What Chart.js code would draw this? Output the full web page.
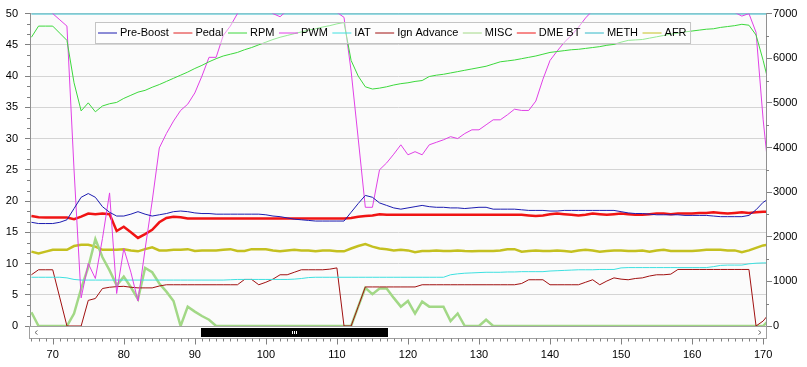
<!DOCTYPE html>
<html>
<head>
<meta charset="utf-8">
<script src="https://cdn.jsdelivr.net/npm/chart.js@4"></script>
<style>
  html, body { margin: 0; padding: 0; background: #fff; }
  #wrap { width: 807px; height: 367px; }
</style>
</head>
<body>
<div id="wrap"><canvas id="myChart" width="807" height="367"></canvas></div>
<script>
// sample index along the log (67 .. 171)
const samples = Array.from({ length: 105 }, (_, i) => 67 + i);

const preBoost = [
  16.6, 16.4, 16.4, 16.4, 16.6, 17.0, 18.8, 20.6, 21.2, 20.6,
  19.1, 18.2, 17.6, 17.6, 17.9, 18.3, 17.9, 17.6, 17.8, 18.0,
  18.3, 18.4, 18.3, 18.1, 18.0, 18.0, 17.9, 17.9, 17.9, 17.9,
  17.9, 17.9, 17.9, 17.8, 17.6, 17.5, 17.3, 17.1, 17.0, 16.9,
  16.8, 16.8, 16.8, 16.8, 16.8, 18.2, 19.6, 20.9, 20.6, 19.7,
  19.3, 18.9, 18.7, 18.9, 19.1, 19.3, 19.1, 19.0, 19.0, 18.9,
  18.9, 18.8, 18.9, 19.0, 19.0, 18.7, 18.7, 18.7, 18.7, 18.6,
  18.5, 18.5, 18.5, 18.4, 18.4, 18.5, 18.5, 18.5, 18.5, 18.5,
  18.5, 18.5, 18.5, 18.3, 18.1, 18.0, 18.0, 17.9, 17.8, 17.8,
  17.8, 17.8, 17.7, 17.7, 17.7, 17.7, 17.6, 17.5, 17.5, 17.5,
  17.5, 17.7, 18.6, 19.8, 20.5
];

// pedal sits above the visible range of the left axis
const pedal = samples.map(() => 100);

const rpm = [
  6470, 6720, 6720, 6720, 6560, 6400, 5450, 4820, 5000, 4800,
  4930, 4980, 5010, 5100, 5170, 5240, 5280, 5350, 5410, 5480,
  5550, 5620, 5690, 5770, 5840, 5920, 5990, 6050, 6090, 6130,
  6190, 6240, 6300, 6360, 6420, 6470, 6510, 6550, 6590, 6630,
  6660, 6700, 6730, 6770, 6800, 5950, 5600, 5360, 5310, 5330,
  5360, 5400, 5430, 5450, 5480, 5500, 5590, 5620, 5640, 5670,
  5700, 5730, 5760, 5790, 5820, 5870, 5920, 5940, 5960, 5990,
  6020, 6050, 6090, 6130, 6150, 6170, 6190, 6200, 6220, 6240,
  6260, 6290, 6310, 6360, 6400, 6410, 6420, 6450, 6480, 6510,
  6540, 6560, 6590, 6610, 6630, 6650, 6660, 6690, 6710, 6730,
  6760, 6740, 6520, 5950, 5300
];

const pwm = [
  60, 58, 54, 50, 49, 48, 25, 4.5, 10, 7.6,
  14, 21.3, 5.2, 12.4, 8.6, 4.0, 12.3, 20, 28.5, 30.8,
  32.8, 34.5, 35.5, 37.3, 40, 43, 43, 46.5, 48, 50,
  52, 54, 53, 51, 50, 49.5, 50.5, 51, 51, 51,
  50.8, 50.5, 50.3, 50.2, 49.4, 40.8, 30, 19, 19, 25,
  26.1, 27.5, 29, 27.4, 27.9, 27.4, 29, 29.4, 29.8, 30.3,
  30, 30.8, 31.4, 31.4, 32.2, 33, 33, 33.8, 34.7, 34.5,
  34.5, 36, 39.5, 42.5, 44, 45.4, 46.5, 47.8, 49.3, 50.5,
  52, 54, 56, 58, 60, 60, 60, 60, 60, 60,
  60, 60, 60, 58, 56, 54, 52, 51, 50.5, 50.2,
  49.6, 50, 47, 33, 22
];

const iat = [
  7.8, 7.8, 7.8, 7.8, 7.8, 7.7, 7.45, 7.35, 7.35, 7.35,
  7.35, 7.35, 7.35, 7.35, 7.35, 7.35, 7.35, 7.35, 7.35, 7.35,
  7.35, 7.35, 7.35, 7.35, 7.35, 7.35, 7.35, 7.35, 7.4, 7.45,
  7.45, 7.45, 7.45, 7.45, 7.45, 7.45, 7.45, 7.5, 7.6, 7.75,
  7.8, 7.8, 7.8, 7.8, 7.8, 7.8, 7.8, 7.8, 7.8, 7.8,
  7.8, 7.8, 7.8, 7.8, 7.8, 7.8, 7.8, 7.8, 7.8, 8.2,
  8.35, 8.45, 8.5, 8.55, 8.6, 8.6, 8.6, 8.65, 8.65, 8.7,
  8.7, 8.7, 8.7, 8.8, 8.85, 8.9, 8.95, 9.0, 9.0, 9.0,
  9.05, 9.05, 9.05, 9.3, 9.35, 9.35, 9.35, 9.35, 9.35, 9.35,
  9.35, 9.35, 9.35, 9.35, 9.35, 9.35, 9.5, 9.7, 9.75, 9.75,
  9.75, 9.95, 10.05, 10.1, 10.1
];

const ignAdvance = [
  8.2, 9.0, 9.0, 9.0, 4.5, 0, 0, 0, 4.1, 4.4,
  6.0, 6.2, 6.3, 6.35, 6.2, 6.1, 6.1, 6.1, 6.4, 6.6,
  6.6, 6.6, 6.6, 6.6, 6.6, 6.6, 6.6, 6.6, 6.6, 6.6,
  7.45, 7.45, 6.6, 7.0, 7.5, 8.2, 8.2, 8.6, 9.0, 9.0,
  9.0, 9.0, 9.1, 9.3, 0, 0, 3.1, 6.25, 6.25, 6.25,
  6.25, 6.25, 6.25, 6.25, 6.25, 6.6, 6.6, 6.6, 6.6, 6.6,
  6.6, 6.6, 6.6, 6.6, 6.6, 6.6, 6.6, 6.6, 6.6, 6.8,
  7.4, 7.4, 7.4, 6.6, 6.6, 6.6, 6.6, 6.6, 7.0, 7.4,
  6.6, 7.2, 7.7, 7.5, 7.4, 7.6, 7.7, 8.0, 8.2, 8.2,
  8.3, 9.05, 9.05, 9.05, 9.05, 9.05, 9.05, 9.05, 9.05, 9.05,
  9.05, 9.05, 0, 0.8, 2.2
];

const misc = [
  2.2, 0, 0, 0, 0, 0, 2.0, 6.0, 9.4, 13.9,
  11, 8.9, 6.5, 7.9, 6.2, 4.3, 9.3, 8.6, 6.8, 5.5,
  4.0, 0, 3.1, 2.3, 1.6, 1.0, 0, 0, 0, 0,
  0, 0, 0, 0, 0, 0, 0, 0, 0, 0,
  0, 0, 0, 0, 0, 0, 3.1, 6.1, 5.1, 6.0,
  6.0, 4.5, 3.1, 4.0, 2.0, 3.9, 3.1, 3.1, 3.1, 0.8,
  2.0, 0, 0, 0, 1.0, 0, 0, 0, 0, 0,
  0, 0, 0, 0, 0, 0, 0, 0, 0, 0,
  0, 0, 0, 0, 0, 0, 0, 0, 0, 0,
  0, 0, 0, 0, 0, 0, 0, 0, 0, 0,
  0, 0, 0, 0, 1.2
];

const dmeBt = [
  17.6, 17.4, 17.35, 17.35, 17.35, 17.35, 17.1, 17.5, 18.0, 17.9,
  18.0, 17.9, 15.2, 15.9, 15.0, 14.1, 14.7, 15.4, 16.6, 17.3,
  17.5, 17.4, 17.2, 17.2, 17.2, 17.2, 17.2, 17.2, 17.2, 17.2,
  17.2, 17.2, 17.2, 17.2, 17.2, 17.2, 17.2, 17.2, 17.2, 17.2,
  17.2, 17.2, 17.2, 17.2, 17.2, 17.3, 17.5, 17.6, 17.7, 17.9,
  17.8, 17.8, 17.8, 17.8, 17.8, 17.8, 17.8, 17.8, 17.8, 17.8,
  17.8, 17.8, 17.8, 17.8, 17.8, 17.8, 17.8, 17.8, 17.8, 17.8,
  17.7, 17.6, 17.7, 17.9, 18.0, 17.9, 17.8, 17.7, 17.8, 18.0,
  17.9, 17.8, 17.9, 18.0, 17.9, 17.8, 17.8, 17.9, 18.0, 18.0,
  17.9, 18.0, 18.0, 18.0, 18.1, 18.1, 18.2, 18.1, 18.0, 18.1,
  18.2, 18.1, 18.2, 18.3, 18.3
];

// meth pinned at the top of the left axis
const meth = samples.map(() => 50);

const afr = [
  11.9, 11.6, 11.9, 12.2, 12.2, 12.2, 12.8, 13.0, 13.0, 12.7,
  12.2, 12.2, 12.2, 12.3, 12.1, 11.95, 12.3, 12.6, 12.1, 12.1,
  12.2, 12.2, 12.3, 12.0, 12.1, 12.1, 12.1, 12.2, 12.3, 12.0,
  12.0, 12.3, 12.3, 12.3, 12.1, 11.95, 12.1, 12.2, 12.1, 12.1,
  11.95, 12.1, 12.1, 11.95, 11.95, 12.4, 12.8, 13.1, 12.7, 12.4,
  12.3, 12.1, 12.2, 12.1, 11.8, 12.0, 12.0, 12.1, 12.0, 12.0,
  12.1, 12.0, 11.95, 12.0, 12.0, 12.0, 12.1, 12.3, 12.3, 11.9,
  12.0, 12.1, 12.0, 12.0, 12.1, 12.0, 11.9, 12.1, 12.2, 12.1,
  11.9, 12.0, 12.1, 12.1, 12.0, 12.0, 12.1, 11.9, 12.1, 12.2,
  12.0, 12.0, 12.0, 12.0, 12.1, 12.2, 12.2, 12.2, 12.1, 12.1,
  11.8, 12.1, 12.5, 12.9, 13.1
];

const leftTicks = [0, 5, 10, 15, 20, 25, 30, 35, 40, 45, 50];
const rightTicks = [0, 1000, 2000, 3000, 4000, 5000, 6000, 7000];
const xTicks = [70, 80, 90, 100, 110, 120, 130, 140, 150, 160, 170];

const FONT = '"Liberation Sans", Arial, sans-serif';

function series(label, data, color, width, axis) {
  return {
    label: label,
    data: data,
    borderColor: color,
    backgroundColor: color,
    borderWidth: width,
    pointRadius: 0,
    tension: 0,
    fill: false,
    yAxisID: axis || 'y'
  };
}

// background, minor ticks, scroll bar and the in-plot legend
const chartDecor = {
  id: 'chartDecor',
  beforeDraw(chart) {
    const { ctx, chartArea: a } = chart;
    ctx.save();
    ctx.fillStyle = '#ffffff';
    ctx.fillRect(0, 0, chart.width, chart.height);
    ctx.fillStyle = '#fbfbfb';
    ctx.fillRect(a.left, a.top, a.right - a.left, a.bottom - a.top);
    ctx.restore();
  },
  afterDraw(chart) {
    const { ctx, chartArea: a, scales } = chart;
    const yL = scales.y, yR = scales.y1, x = scales.x;
    ctx.save();

    // scroll bar under the plot
    const sbTop = a.bottom + 0.5, sbBot = a.bottom + 12.5;
    ctx.fillStyle = '#ffffff';
    ctx.fillRect(a.left, a.bottom + 1, a.right - a.left, 12);
    ctx.strokeStyle = '#a0a0a0';
    ctx.lineWidth = 1;
    ctx.strokeRect(a.left - 0.5, sbTop, a.right - a.left + 1, sbBot - sbTop);
    ctx.fillStyle = '#000000';
    ctx.fillRect(201, a.bottom + 2, 187, 9);
    ctx.strokeStyle = '#ffffff';
    ctx.beginPath();
    [292.5, 294.5, 296.5].forEach(px => { ctx.moveTo(px, a.bottom + 5); ctx.lineTo(px, a.bottom + 8); });
    ctx.stroke();
    ctx.strokeStyle = '#707070';
    ctx.beginPath();
    ctx.moveTo(a.left + 7.5, a.bottom + 4.5); ctx.lineTo(a.left + 5, a.bottom + 6.5); ctx.lineTo(a.left + 7.5, a.bottom + 8.5);
    ctx.moveTo(a.right - 7.5, a.bottom + 4.5); ctx.lineTo(a.right - 5, a.bottom + 6.5); ctx.lineTo(a.right - 7.5, a.bottom + 8.5);
    ctx.stroke();

    // axis ticks
    ctx.strokeStyle = '#808080';
    ctx.beginPath();
    for (let v = 67; v <= 170; v++) {
      const px = Math.round(x.getPixelForValue(v)) + 0.5;
      const len = v % 10 === 0 ? 6 : 3;
      ctx.moveTo(px, sbBot); ctx.lineTo(px, sbBot + len);
    }
    for (let k = 0; k <= 30; k++) {
      if (k % 3 === 0) continue;
      const py = Math.round(yL.getPixelForValue(k * 5 / 3)) + 0.5;
      ctx.moveTo(a.left - 3, py); ctx.lineTo(a.left, py);
    }
    for (let k = 1; k < 14; k += 2) {
      const py = Math.round(yR.getPixelForValue(k * 500)) + 0.5;
      ctx.moveTo(a.right, py); ctx.lineTo(a.right + 3, py);
    }
    ctx.stroke();

    // legend box inside the plot
    ctx.font = '11px ' + FONT;
    ctx.textBaseline = 'middle';
    const items = chart.data.datasets;
    const lx = 95, ly = 22, lh = 21, lineLen = 19;
    let cx = lx + 3;
    const pos = items.map(ds => {
      const p = cx;
      cx += lineLen + 3 + ctx.measureText(ds.label).width + 4.5;
      return p;
    });
    const lw = cx - lx - 1;
    ctx.fillStyle = 'rgba(255,255,255,0.45)';
    ctx.fillRect(lx, ly, lw, lh);
    ctx.strokeStyle = '#c4c4c4';
    ctx.strokeRect(lx + 0.5, ly + 0.5, lw, lh);
    items.forEach((ds, i) => {
      const cy = ly + lh / 2 + 0.5;
      ctx.strokeStyle = ds.borderColor;
      ctx.lineWidth = 1;
      ctx.beginPath();
      ctx.moveTo(pos[i], cy); ctx.lineTo(pos[i] + lineLen, cy);
      ctx.stroke();
      ctx.fillStyle = '#000000';
      ctx.fillText(ds.label, pos[i] + lineLen + 3, cy);
    });
    ctx.restore();
  }
};

const ctx = document.getElementById('myChart').getContext('2d');
const myChart = new Chart(ctx, {
  type: 'line',
  data: {
    labels: samples,
    datasets: [
      series('Pre-Boost', preBoost, '#1c1cb0', 1),
      series('Pedal', pedal, '#e02020', 1),
      series('RPM', rpm, '#3cd83c', 1, 'y1'),
      series('PWM', pwm, '#e040e6', 1),
      series('IAT', iat, '#3ee0e0', 1),
      series('Ign Advance', ignAdvance, '#a01010', 1),
      series('MISC', misc, '#a2d886', 2.5),
      series('DME BT', dmeBt, '#f01414', 2.5),
      series('METH', meth, '#30b8c8', 2),
      series('AFR', afr, '#c4c020', 2.5)
    ]
  },
  options: {
    responsive: false,
    animation: false,
    devicePixelRatio: 1,
    layout: { padding: { top: 11, left: 0, right: 0, bottom: 0 } },
    plugins: {
      legend: { display: false },
      tooltip: { enabled: false }
    },
    scales: {
      x: {
        type: 'linear',
        min: 66.8,
        max: 170.4,
        afterBuildTicks: s => { s.ticks = xTicks.map(v => ({ value: v })); },
        afterFit: s => { s.height = 41; },
        grid: { display: false, drawTicks: false },
        border: { display: false },
        ticks: { autoSkip: false, maxRotation: 0, padding: 22, color: '#000', font: { family: FONT, size: 11 } }
      },
      y: {
        position: 'left',
        min: 0,
        max: 50,
        afterBuildTicks: s => { s.ticks = leftTicks.map(v => ({ value: v })); },
        afterFit: s => { s.width = 30; },
        grid: { color: '#d4d4d4', tickColor: '#808080', tickLength: 5 },
        border: { color: '#909090' },
        ticks: { padding: 7, color: '#000', font: { family: FONT, size: 11 } }
      },
      y1: {
        position: 'right',
        min: 0,
        max: 7000,
        afterBuildTicks: s => { s.ticks = rightTicks.map(v => ({ value: v })); },
        afterFit: s => { s.width = 41; },
        grid: { drawOnChartArea: false, tickColor: '#808080', tickLength: 6 },
        border: { color: '#909090' },
        ticks: { padding: 1, color: '#000', font: { family: FONT, size: 11 }, callback: v => String(v) }
      }
    }
  },
  plugins: [chartDecor]
});
</script>
</body>
</html>
